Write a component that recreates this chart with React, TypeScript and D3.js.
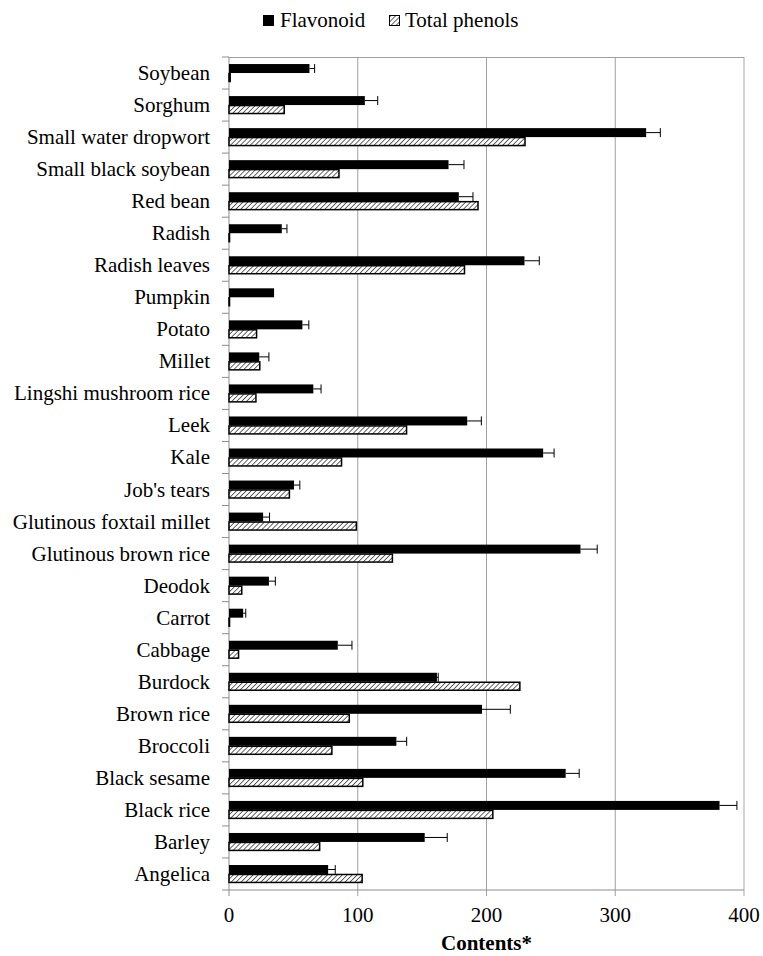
import React from 'react';
import * as d3 from 'd3';

const width = 763;
const height = 956;
const margin = {top: 57, right: 19, bottom: 66, left: 229};
const css = `
#chart text, #chart .lbl { font-family: "Times New Roman", "Liberation Serif", serif !important; font-size: 21px; }
#chart .bold { font-weight: bold; }
`;

// bottom-up order, as in the source sheet
const categories = [
    "Angelica", "Barley", "Black rice", "Black sesame", "Broccoli", "Brown rice", "Burdock",
    "Cabbage", "Carrot", "Deodok", "Glutinous brown rice", "Glutinous foxtail millet",
    "Job's tears", "Kale", "Leek", "Lingshi mushroom rice", "Millet", "Potato", "Pumpkin",
    "Radish leaves", "Radish", "Red bean", "Small black soybean", "Small water dropwort",
    "Sorghum", "Soybean"
];
const flavonoid = [
    77, 152, 381, 261.5, 130, 196.5, 161.5, 84.5, 11, 31, 273, 26.5,
    50.5, 244, 185, 65.5, 23.5, 57, 35, 229.5, 41, 178.5, 170.5, 324,
    105.5, 62.5
];
const flavonoidErr = [
    5.5, 17.5, 13.5, 10.5, 8, 22, 1, 11, 2, 5, 13, 5,
    4.5, 8.5, 11, 6, 7.5, 5, 0, 11.5, 4, 11, 12, 11,
    10, 4
];
const totalPhenols = [
    104, 71, 205.5, 104.5, 80.5, 94, 226.5, 8, 1, 10.5, 127.5, 99.5,
    47.5, 88, 138.5, 21.5, 24.5, 22, 1, 183.5, 1, 194, 86, 230.5,
    43.5, 1.5
];
const seriesNames = ["Flavonoid", "Total phenols"];
const xTicks = [0, 100, 200, 300, 400];

export default function App() {
    const innerW = width - margin.left - margin.right;
    const innerH = height - margin.top - margin.bottom;

    const x = d3.scaleLinear().domain([0, 400]).range([0, innerW]);
    const y = d3.scaleBand<string>()
        .domain([...categories].reverse())
        .range([0, innerH])
        .paddingInner(0.44)
        .paddingOuter(0.22);
    const sub = d3.scaleBand<string>().domain(seriesNames).range([0, y.bandwidth()]);
    const gap = (y.step() - y.bandwidth()) / 2;
    const boundaries = d3.range(categories.length + 1).map(i => i * y.step());

    return (
        <div id="chart" style={{position: 'absolute', left: 0, top: 0, fontFamily: 'Times New Roman'}}>
            <style>{css}</style>
            <svg width={width} height={height} style={{display: 'block', background: '#fff'}}>
                <defs>
                    <pattern id="hatch" width="3.5" height="3.5" patternUnits="userSpaceOnUse"
                             patternTransform="rotate(45)">
                        <rect width="3.5" height="3.5" fill="#fff"/>
                        <line x1="0" y1="0" x2="0" y2="3.5" stroke="#000" strokeWidth="1.2"/>
                    </pattern>
                </defs>

                {/* legend */}
                <rect x={263} y={15} width={11} height={11} fill="#000"/>
                <text className="lbl" x={280} y={27}>Flavonoid</text>
                <rect x={389.5} y={15.5} width={10} height={10} fill="url(#hatch)" stroke="#000"/>
                <text className="lbl" x={405} y={27}>Total phenols</text>

                <g transform={`translate(${margin.left},${margin.top})`}>
                    {/* grid + frame */}
                    {xTicks.slice(1).map(t => (
                        <line key={t} x1={x(t)} x2={x(t)} y1={0} y2={innerH + 6}
                              stroke={t === 400 ? '#c4c4c4' : '#a0a0a0'} strokeWidth={t === 400 ? 1.5 : 1}/>
                    ))}
                    <line x1={0} x2={innerW} y1={0.5} y2={0.5} stroke="#a0a0a0"/>
                    <line x1={0} x2={innerW} y1={innerH} y2={innerH} stroke="#8c8c8c"/>
                    <line x1={0} x2={0} y1={0} y2={innerH + 6} stroke="#8c8c8c"/>
                    {boundaries.map((b, i) => (
                        <line key={i} x1={-7} x2={0} y1={b} y2={b} stroke="#8c8c8c"/>
                    ))}

                    {/* bars */}
                    {categories.map((c, i) => {
                        const y0 = (y(c) ?? 0) + (sub("Flavonoid") ?? 0);
                        const y1 = (y(c) ?? 0) + (sub("Total phenols") ?? 0);
                        const bh = sub.bandwidth();
                        const cy = y0 + bh / 2;
                        const end = x(flavonoid[i]);
                        const errEnd = x(flavonoid[i] + flavonoidErr[i]);
                        return (
                            <g key={c}>
                                <rect x={0} y={y1 + 0.5} width={Math.max(x(totalPhenols[i]) - 0.75, 0.5)} height={bh - 1}
                                      fill="url(#hatch)" stroke="#000" strokeWidth={1.5}/>
                                <rect x={0} y={y0} width={end} height={bh} fill="#000"/>
                                {flavonoidErr[i] > 0 && (
                                    <g stroke="#000" strokeWidth={1}>
                                        <line x1={end} x2={errEnd} y1={cy} y2={cy}/>
                                        <line x1={errEnd} x2={errEnd} y1={cy - 4.5} y2={cy + 4.5}/>
                                    </g>
                                )}
                            </g>
                        );
                    })}

                    {/* category labels */}
                    {categories.map(c => (
                        <text key={c} className="lbl" x={-19} y={(y(c) ?? 0) - gap + y.step() / 2 + 7}
                              textAnchor="end">{c}</text>
                    ))}

                    {/* x tick labels */}
                    {xTicks.map(t => (
                        <text key={t} className="lbl" x={x(t)} y={innerH + 32} textAnchor="middle">{t}</text>
                    ))}
                    <text className="lbl bold" x={innerW / 2} y={innerH + 60} textAnchor="middle">Contents*</text>
                </g>
            </svg>
        </div>
    );
}
